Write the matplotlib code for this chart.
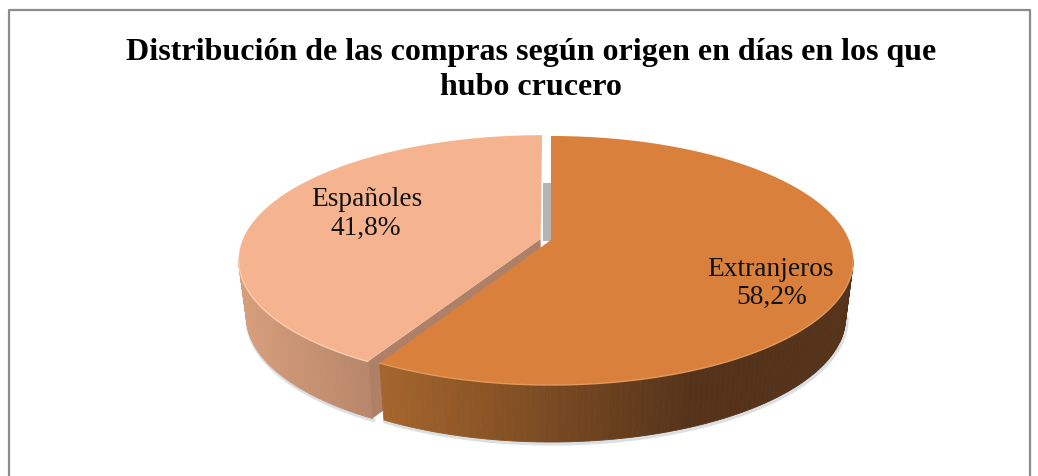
import numpy as np
import matplotlib
matplotlib.use("Agg")
import matplotlib.pyplot as plt
from matplotlib.colors import to_rgb

# data
labels = ["Extranjeros", "Españoles"]
values = [58.2, 41.8]
value_text = ["58,2%", "41,8%"]
title = "Distribución de las compras según origen en días en los que\nhubo crucero"

plt.rcParams["font.family"] = ["Liberation Serif", "DejaVu Serif"]

# pie geometry in pixels, the disc is seen in perspective
cx = 551
rx = 298
a = -81.6
b = 240
c = 0.1647
depth = 57
shrink = 0.975


def project(u, v):
    d = 1 + c * v
    return cx + rx * u / d, (a * v + b) / d


def arc(t0, t1, du=0.0, dv=0.0, n=200):
    t = np.radians(np.linspace(t0, t1, n))
    return project(np.sin(t) + du, np.cos(t) + dv)


def lower(x, y):
    return cx + shrink * (x - cx), y + depth


def mix(c1, c2, f):
    c1 = np.array(to_rgb(c1))
    c2 = np.array(to_rgb(c2))
    return tuple(c1 + (c2 - c1) * np.clip(f, 0, 1))


def draw_side(x, y, c1, c2, x1, x2, z):
    xl, yl = lower(x, y)
    # soft shadow under the rim
    ax.plot(xl + 1, yl + 1.5, color="#c4ccd2", lw=3, alpha=0.6, zorder=1, solid_capstyle="round")
    for i in range(len(x) - 1):
        f = ((x[i] + x[i + 1]) / 2 - x1) / (x2 - x1)
        col = mix(c1, c2, f)
        ax.fill([x[i], x[i + 1], xl[i + 1], xl[i]], [y[i], y[i + 1], yl[i + 1], yl[i]],
                color=col, lw=0.6, zorder=z)


fig = plt.figure(figsize=(10.38, 4.76), dpi=100)
ax = fig.add_axes([0, 0, 1, 1])
ax.set_xlim(0, 1038)
ax.set_ylim(476, 0)
ax.axis("off")

# chart border
ax.plot([9, 9, 1030, 1030], [480, 10, 10, 480], color="#8c8c8c", lw=1.6, zorder=1)

angle_split = 360 * values[0] / sum(values)

# gray shadow seen in the gap between the slices
ax.fill([543, 551, 551, 543], [183, 183, 241, 241], color="#b4b4b4", lw=0, zorder=1)

# Españoles slice, pulled out along its middle direction
mid = np.radians((angle_split + 360) / 2)
du = 0.036 * np.sin(mid)
dv = 0.036 * np.cos(mid)
x2, y2 = arc(angle_split, 360, du, dv)
ax0, ay0 = project(du, dv)
sel = np.where(y2 >= 258)[0]
draw_side(x2[sel], y2[sel], "#d69e7c", "#b8866a", 240, 368, 2)
# cut face
xc = np.array([x2[0], ax0])
yc = np.array([y2[0], ay0])
xcl, ycl = lower(xc, yc)
ax.fill([xc[0], xc[1], xcl[1], xcl[0]], [yc[0], yc[1], ycl[1], ycl[0]], color="#ae8067", lw=0, zorder=3)
ax.fill(np.r_[x2, ax0], np.r_[y2, ay0], color="#f5b48f", lw=0, zorder=4)
ax.plot(x2[sel], y2[sel], color="#f9cfb4", lw=1, zorder=4)

# Extranjeros slice
x1, y1 = arc(0, angle_split)
ax1, ay1 = project(0, 0)
sel = np.where(y1 >= 258)[0]
draw_side(x1[sel], y1[sel], "#a5662c", "#55331a", 380, 690, 4.5)
ax.fill(np.r_[x1, ax1], np.r_[y1, ay1], color="#d8803c", lw=0, zorder=5)
ax.plot(x1[sel], y1[sel], color="#e39a5c", lw=1, zorder=5)

# texts
ax.text(531, 70, title, ha="center", va="center", fontsize=23, fontweight="bold",
        color="black", linespacing=1.23, zorder=6)
ax.text(770, 270, labels[0], ha="center", va="center", fontsize=19.7, color="#111111", zorder=6)
ax.text(772, 297, value_text[0], ha="center", va="center", fontsize=19.7, color="#111111", zorder=6)
ax.text(367, 200, labels[1], ha="center", va="center", fontsize=19.7, color="#111111", zorder=6)
ax.text(366, 228, value_text[1], ha="center", va="center", fontsize=19.7, color="#111111", zorder=6)

fig.savefig("out.png", dpi=100)
